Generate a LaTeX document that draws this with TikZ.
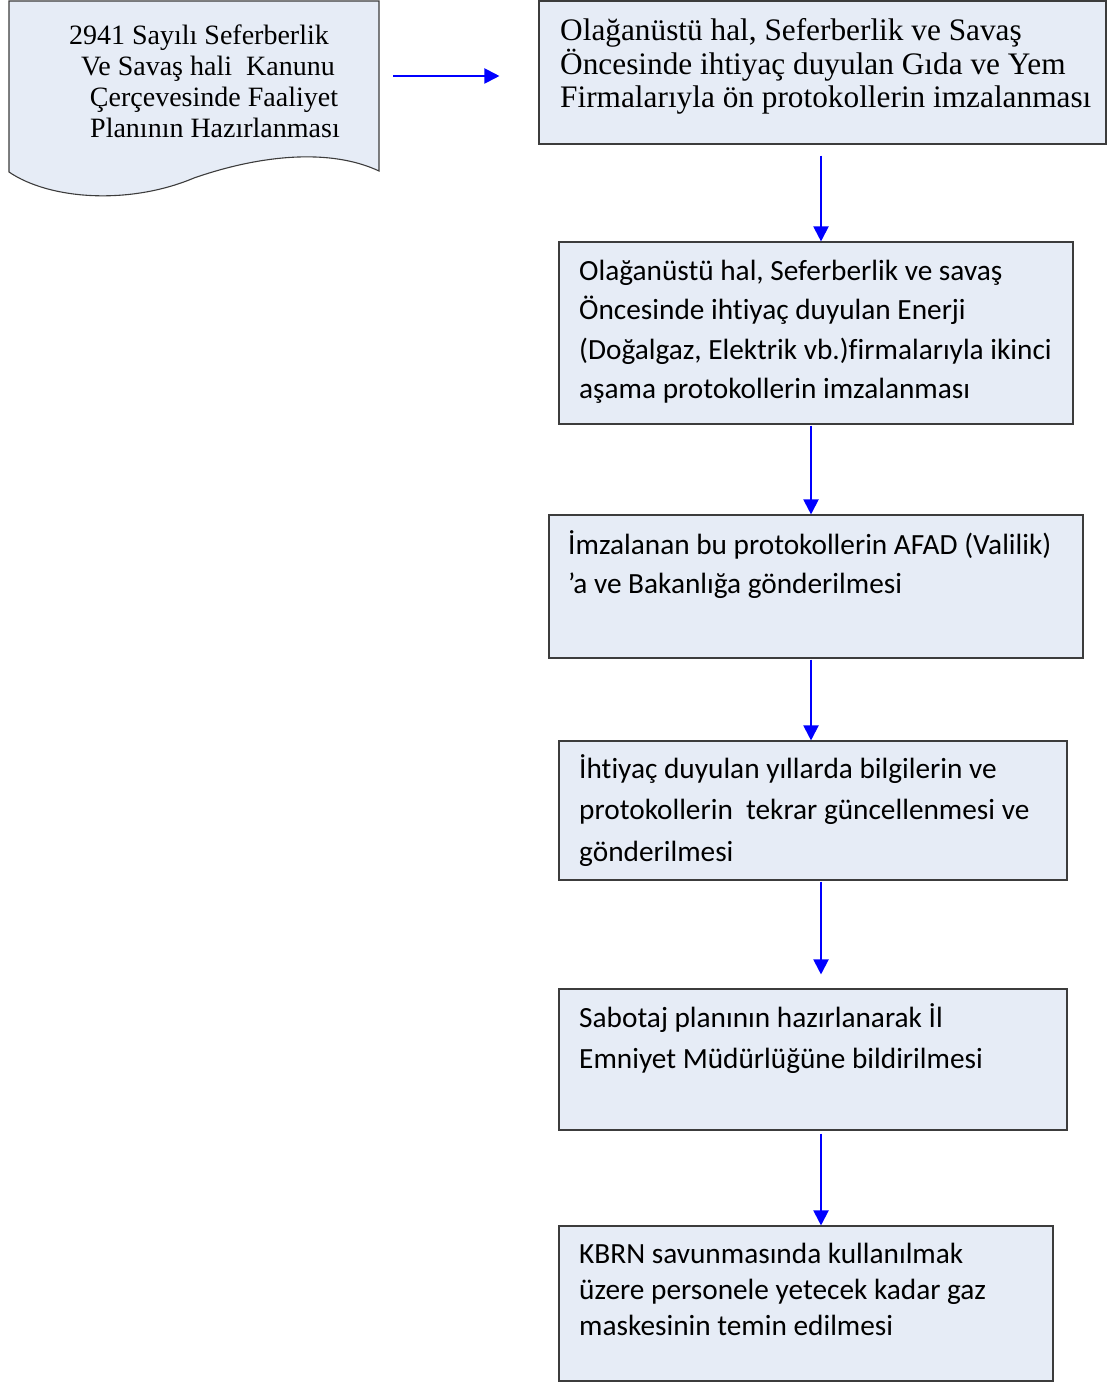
\documentclass[tikz,border=0pt]{standalone}
\usepackage{fontspec}
\setmainfont{Liberation Serif}[Ligatures={TeX,NoCommon}]
\newfontfamily\calibri{Carlito}[Ligatures={TeX,NoCommon}]
\usetikzlibrary{arrows.meta}
\definecolor{boxfill}{RGB}{230,236,246}
\definecolor{boxline}{RGB}{60,60,60}
\begin{document}
\begin{tikzpicture}[x=1pt,y=-1pt,
  box/.style={draw=boxline, line width=1.1pt, fill=boxfill, rectangle, inner sep=0pt},
  txt/.style={anchor=base west, inner sep=0pt},
  arr/.style={draw=blue, line width=2pt, -{Triangle[length=15pt,width=15pt]}}]
\useasboundingbox (0,0) rectangle (1107,1383);

% document shape
\node[minimum width=370pt, minimum height=171pt, inner sep=0pt] (doc) at (194,86.5) {};
\path[draw=boxline, line width=1.1pt, fill=boxfill]
  (9,1) -- (379,1) -- (379,171)
  .. controls (330,148) and (260,155) .. (194,178)
  .. controls (130,205) and (50,200) .. (9,172) -- cycle;
\node[inner sep=0pt, anchor=base] (dt) at (199,45) {\parbox[t]{370pt}{\centering\fontsize{28}{31}\selectfont
  2941 Sayılı Seferberlik\\
  \hspace*{18pt}Ve Savaş hali\ \ Kanunu\\
  \hspace*{30pt}Çerçevesinde Faaliyet\\
  \hspace*{32pt}Planının Hazırlanması}};

% boxes
\node[box, minimum width=567pt, minimum height=143pt] (b1) at (822.5,72.5) {};
\node[box, minimum width=514pt, minimum height=182pt] (b2) at (816,333) {};
\node[box, minimum width=534pt, minimum height=143pt] (b3) at (816,586.5) {};
\node[box, minimum width=508pt, minimum height=139pt] (b4) at (813,810.5) {};
\node[box, minimum width=508pt, minimum height=141pt] (b5) at (813,1059.5) {};
\node[box, minimum width=494pt, minimum height=155pt] (b6) at (806,1303.5) {};

% texts
\node[txt] (t1) at (560,41) {\parbox[t]{545pt}{\raggedright\fontsize{31.3}{33.5}\selectfont
  Olağanüstü hal, Seferberlik ve Savaş\\
  Öncesinde ihtiyaç duyulan Gıda ve Yem\\
  Firmalarıyla ön protokollerin imzalanması}};
\node[txt] (t2) at (579,280) {\parbox[t]{490pt}{\raggedright\calibri\fontsize{29.3}{39.5}\selectfont
  Olağanüstü hal, Seferberlik ve savaş\\
  Öncesinde ihtiyaç duyulan Enerji\\
  (Doğalgaz, Elektrik vb.)firmalarıyla ikinci\\
  aşama protokollerin imzalanması}};
\node[txt] (t3) at (568,554) {\parbox[t]{520pt}{\raggedright\calibri\fontsize{29.3}{39.5}\selectfont
  İmzalanan bu protokollerin AFAD (Valilik)\\
  ’a ve Bakanlığa gönderilmesi}};
\node[txt] (t4) at (579,778) {\parbox[t]{485pt}{\raggedright\calibri\fontsize{29.3}{41.5}\selectfont
  İhtiyaç duyulan yıllarda bilgilerin ve\\
  protokollerin\ \ tekrar güncellenmesi ve\\
  gönderilmesi}};
\node[txt] (t5) at (579,1027) {\parbox[t]{485pt}{\raggedright\calibri\fontsize{29.3}{41}\selectfont
  Sabotaj planının hazırlanarak İl\\
  Emniyet Müdürlüğüne bildirilmesi}};
\node[txt] (t6) at (579,1263) {\parbox[t]{470pt}{\raggedright\calibri\fontsize{29.3}{36}\selectfont
  KBRN savunmasında kullanılmak\\
  üzere personele yetecek kadar gaz\\
  maskesinin temin edilmesi}};

% connectors
\draw[arr] ([shift={(14,-10.5)}]doc.east) -- ([shift={(-39,3.5)}]b1.west);
\draw[arr] ([shift={(-1.5,11)}]b1.south) -- ([shift={(5,0)}]b2.north);
\draw[arr] ([shift={(-5,1)}]b2.south) -- ([shift={(-5,0)}]b3.north);
\draw[arr] ([shift={(-5,1)}]b3.south) -- ([shift={(-2,0)}]b4.north);
\draw[arr] ([shift={(8,1)}]b4.south) -- ([shift={(8,-14)}]b5.north);
\draw[arr] ([shift={(8,3)}]b5.south) -- ([shift={(15,0)}]b6.north);
\end{tikzpicture}
\end{document}
